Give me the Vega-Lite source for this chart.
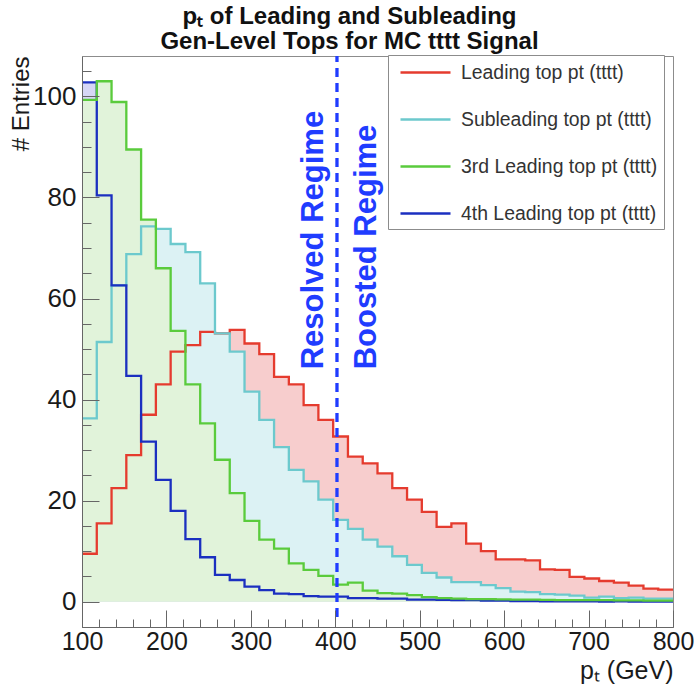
{
  "$schema": "https://vega.github.io/schema/vega-lite/v6.json",
  "width": 591,
  "height": 571,
  "autosize": {"type": "none"},
  "padding": {"left": 82, "top": 56, "right": 21, "bottom": 58},
  "background": "white",
  "title": {
    "text": ["pₜ of Leading and Subleading", "Gen-Level Tops for MC tttt Signal"],
    "font": "Liberation Sans",
    "fontSize": 24,
    "fontWeight": "bold",
    "color": "#111111",
    "anchor": "middle",
    "frame": "group",
    "dx": -28,
    "offset": 0,
    "lineHeight": 25
  },
  "datasets": {
    "h": [
      {"s": "Leading top pt (tttt)", "lo": 100, "hi": 117.5, "n": 9.5},
      {"s": "Leading top pt (tttt)", "lo": 117.5, "hi": 135, "n": 15.5},
      {"s": "Leading top pt (tttt)", "lo": 135, "hi": 152.5, "n": 22.5},
      {"s": "Leading top pt (tttt)", "lo": 152.5, "hi": 170, "n": 29},
      {"s": "Leading top pt (tttt)", "lo": 170, "hi": 187.5, "n": 37},
      {"s": "Leading top pt (tttt)", "lo": 187.5, "hi": 205, "n": 43},
      {"s": "Leading top pt (tttt)", "lo": 205, "hi": 222.5, "n": 49.5},
      {"s": "Leading top pt (tttt)", "lo": 222.5, "hi": 240, "n": 50.8},
      {"s": "Leading top pt (tttt)", "lo": 240, "hi": 257.5, "n": 53.4},
      {"s": "Leading top pt (tttt)", "lo": 257.5, "hi": 275, "n": 53.1},
      {"s": "Leading top pt (tttt)", "lo": 275, "hi": 292.5, "n": 53.8},
      {"s": "Leading top pt (tttt)", "lo": 292.5, "hi": 310, "n": 51.1},
      {"s": "Leading top pt (tttt)", "lo": 310, "hi": 327.5, "n": 49},
      {"s": "Leading top pt (tttt)", "lo": 327.5, "hi": 345, "n": 44.5},
      {"s": "Leading top pt (tttt)", "lo": 345, "hi": 362.5, "n": 43},
      {"s": "Leading top pt (tttt)", "lo": 362.5, "hi": 380, "n": 38.9},
      {"s": "Leading top pt (tttt)", "lo": 380, "hi": 397.5, "n": 36},
      {"s": "Leading top pt (tttt)", "lo": 397.5, "hi": 415, "n": 32.7},
      {"s": "Leading top pt (tttt)", "lo": 415, "hi": 432.5, "n": 28.7},
      {"s": "Leading top pt (tttt)", "lo": 432.5, "hi": 450, "n": 27.4},
      {"s": "Leading top pt (tttt)", "lo": 450, "hi": 467.5, "n": 25.4},
      {"s": "Leading top pt (tttt)", "lo": 467.5, "hi": 485, "n": 22.5},
      {"s": "Leading top pt (tttt)", "lo": 485, "hi": 502.5, "n": 20.2},
      {"s": "Leading top pt (tttt)", "lo": 502.5, "hi": 520, "n": 17.8},
      {"s": "Leading top pt (tttt)", "lo": 520, "hi": 537.5, "n": 14.8},
      {"s": "Leading top pt (tttt)", "lo": 537.5, "hi": 555, "n": 15.5},
      {"s": "Leading top pt (tttt)", "lo": 555, "hi": 572.5, "n": 11.5},
      {"s": "Leading top pt (tttt)", "lo": 572.5, "hi": 590, "n": 10},
      {"s": "Leading top pt (tttt)", "lo": 590, "hi": 607.5, "n": 8.4},
      {"s": "Leading top pt (tttt)", "lo": 607.5, "hi": 625, "n": 8.4},
      {"s": "Leading top pt (tttt)", "lo": 625, "hi": 642.5, "n": 8.2},
      {"s": "Leading top pt (tttt)", "lo": 642.5, "hi": 660, "n": 6.4},
      {"s": "Leading top pt (tttt)", "lo": 660, "hi": 677.5, "n": 6.3},
      {"s": "Leading top pt (tttt)", "lo": 677.5, "hi": 695, "n": 4.9},
      {"s": "Leading top pt (tttt)", "lo": 695, "hi": 712.5, "n": 4.6},
      {"s": "Leading top pt (tttt)", "lo": 712.5, "hi": 730, "n": 4.1},
      {"s": "Leading top pt (tttt)", "lo": 730, "hi": 747.5, "n": 3.8},
      {"s": "Leading top pt (tttt)", "lo": 747.5, "hi": 765, "n": 3.2},
      {"s": "Leading top pt (tttt)", "lo": 765, "hi": 782.5, "n": 2.6},
      {"s": "Leading top pt (tttt)", "lo": 782.5, "hi": 800, "n": 2.4},

      {"s": "Subleading top pt (tttt)", "lo": 100, "hi": 117.5, "n": 36.3},
      {"s": "Subleading top pt (tttt)", "lo": 117.5, "hi": 135, "n": 51.4},
      {"s": "Subleading top pt (tttt)", "lo": 135, "hi": 152.5, "n": 62.6},
      {"s": "Subleading top pt (tttt)", "lo": 152.5, "hi": 170, "n": 68.8},
      {"s": "Subleading top pt (tttt)", "lo": 170, "hi": 187.5, "n": 74.3},
      {"s": "Subleading top pt (tttt)", "lo": 187.5, "hi": 205, "n": 73.8},
      {"s": "Subleading top pt (tttt)", "lo": 205, "hi": 222.5, "n": 70.8},
      {"s": "Subleading top pt (tttt)", "lo": 222.5, "hi": 240, "n": 69.2},
      {"s": "Subleading top pt (tttt)", "lo": 240, "hi": 257.5, "n": 63},
      {"s": "Subleading top pt (tttt)", "lo": 257.5, "hi": 275, "n": 53.1},
      {"s": "Subleading top pt (tttt)", "lo": 275, "hi": 292.5, "n": 49.5},
      {"s": "Subleading top pt (tttt)", "lo": 292.5, "hi": 310, "n": 41.6},
      {"s": "Subleading top pt (tttt)", "lo": 310, "hi": 327.5, "n": 36},
      {"s": "Subleading top pt (tttt)", "lo": 327.5, "hi": 345, "n": 30.6},
      {"s": "Subleading top pt (tttt)", "lo": 345, "hi": 362.5, "n": 26.1},
      {"s": "Subleading top pt (tttt)", "lo": 362.5, "hi": 380, "n": 23.8},
      {"s": "Subleading top pt (tttt)", "lo": 380, "hi": 397.5, "n": 20.2},
      {"s": "Subleading top pt (tttt)", "lo": 397.5, "hi": 415, "n": 16.2},
      {"s": "Subleading top pt (tttt)", "lo": 415, "hi": 432.5, "n": 14.4},
      {"s": "Subleading top pt (tttt)", "lo": 432.5, "hi": 450, "n": 12.3},
      {"s": "Subleading top pt (tttt)", "lo": 450, "hi": 467.5, "n": 10.9},
      {"s": "Subleading top pt (tttt)", "lo": 467.5, "hi": 485, "n": 9},
      {"s": "Subleading top pt (tttt)", "lo": 485, "hi": 502.5, "n": 7.3},
      {"s": "Subleading top pt (tttt)", "lo": 502.5, "hi": 520, "n": 5.7},
      {"s": "Subleading top pt (tttt)", "lo": 520, "hi": 537.5, "n": 4.8},
      {"s": "Subleading top pt (tttt)", "lo": 537.5, "hi": 555, "n": 3.9},
      {"s": "Subleading top pt (tttt)", "lo": 555, "hi": 572.5, "n": 3.9},
      {"s": "Subleading top pt (tttt)", "lo": 572.5, "hi": 590, "n": 3.3},
      {"s": "Subleading top pt (tttt)", "lo": 590, "hi": 607.5, "n": 2.7},
      {"s": "Subleading top pt (tttt)", "lo": 607.5, "hi": 625, "n": 2},
      {"s": "Subleading top pt (tttt)", "lo": 625, "hi": 642.5, "n": 1.9},
      {"s": "Subleading top pt (tttt)", "lo": 642.5, "hi": 660, "n": 1.5},
      {"s": "Subleading top pt (tttt)", "lo": 660, "hi": 677.5, "n": 1.4},
      {"s": "Subleading top pt (tttt)", "lo": 677.5, "hi": 695, "n": 1.2},
      {"s": "Subleading top pt (tttt)", "lo": 695, "hi": 712.5, "n": 0.8},
      {"s": "Subleading top pt (tttt)", "lo": 712.5, "hi": 730, "n": 1},
      {"s": "Subleading top pt (tttt)", "lo": 730, "hi": 747.5, "n": 0.7},
      {"s": "Subleading top pt (tttt)", "lo": 747.5, "hi": 765, "n": 0.8},
      {"s": "Subleading top pt (tttt)", "lo": 765, "hi": 782.5, "n": 0.6},
      {"s": "Subleading top pt (tttt)", "lo": 782.5, "hi": 800, "n": 0.6},

      {"s": "4th Leading top pt (tttt)", "lo": 100, "hi": 117.5, "n": 102.8},
      {"s": "4th Leading top pt (tttt)", "lo": 117.5, "hi": 135, "n": 80.4},
      {"s": "4th Leading top pt (tttt)", "lo": 135, "hi": 152.5, "n": 62.6},
      {"s": "4th Leading top pt (tttt)", "lo": 152.5, "hi": 170, "n": 44.7},
      {"s": "4th Leading top pt (tttt)", "lo": 170, "hi": 187.5, "n": 31.7},
      {"s": "4th Leading top pt (tttt)", "lo": 187.5, "hi": 205, "n": 24.1},
      {"s": "4th Leading top pt (tttt)", "lo": 205, "hi": 222.5, "n": 18},
      {"s": "4th Leading top pt (tttt)", "lo": 222.5, "hi": 240, "n": 12.4},
      {"s": "4th Leading top pt (tttt)", "lo": 240, "hi": 257.5, "n": 8.8},
      {"s": "4th Leading top pt (tttt)", "lo": 257.5, "hi": 275, "n": 5.3},
      {"s": "4th Leading top pt (tttt)", "lo": 275, "hi": 292.5, "n": 4.3},
      {"s": "4th Leading top pt (tttt)", "lo": 292.5, "hi": 310, "n": 3},
      {"s": "4th Leading top pt (tttt)", "lo": 310, "hi": 327.5, "n": 2.3},
      {"s": "4th Leading top pt (tttt)", "lo": 327.5, "hi": 345, "n": 1.6},
      {"s": "4th Leading top pt (tttt)", "lo": 345, "hi": 362.5, "n": 1.5},
      {"s": "4th Leading top pt (tttt)", "lo": 362.5, "hi": 380, "n": 1.1},
      {"s": "4th Leading top pt (tttt)", "lo": 380, "hi": 397.5, "n": 1},
      {"s": "4th Leading top pt (tttt)", "lo": 397.5, "hi": 415, "n": 1},
      {"s": "4th Leading top pt (tttt)", "lo": 415, "hi": 432.5, "n": 0.7},
      {"s": "4th Leading top pt (tttt)", "lo": 432.5, "hi": 450, "n": 0.7},
      {"s": "4th Leading top pt (tttt)", "lo": 450, "hi": 467.5, "n": 0.6},
      {"s": "4th Leading top pt (tttt)", "lo": 467.5, "hi": 485, "n": 0.6},
      {"s": "4th Leading top pt (tttt)", "lo": 485, "hi": 502.5, "n": 0.4},
      {"s": "4th Leading top pt (tttt)", "lo": 502.5, "hi": 520, "n": 0.4},
      {"s": "4th Leading top pt (tttt)", "lo": 520, "hi": 537.5, "n": 0.35},
      {"s": "4th Leading top pt (tttt)", "lo": 537.5, "hi": 555, "n": 0.3},
      {"s": "4th Leading top pt (tttt)", "lo": 555, "hi": 572.5, "n": 0.3},
      {"s": "4th Leading top pt (tttt)", "lo": 572.5, "hi": 590, "n": 0.2},
      {"s": "4th Leading top pt (tttt)", "lo": 590, "hi": 607.5, "n": 0.2},
      {"s": "4th Leading top pt (tttt)", "lo": 607.5, "hi": 625, "n": 0.15},
      {"s": "4th Leading top pt (tttt)", "lo": 625, "hi": 642.5, "n": 0.15},
      {"s": "4th Leading top pt (tttt)", "lo": 642.5, "hi": 660, "n": 0.1},
      {"s": "4th Leading top pt (tttt)", "lo": 660, "hi": 677.5, "n": 0.1},
      {"s": "4th Leading top pt (tttt)", "lo": 677.5, "hi": 695, "n": 0.1},
      {"s": "4th Leading top pt (tttt)", "lo": 695, "hi": 712.5, "n": 0.1},
      {"s": "4th Leading top pt (tttt)", "lo": 712.5, "hi": 730, "n": 0.05},
      {"s": "4th Leading top pt (tttt)", "lo": 730, "hi": 747.5, "n": 0.1},
      {"s": "4th Leading top pt (tttt)", "lo": 747.5, "hi": 765, "n": 0.05},
      {"s": "4th Leading top pt (tttt)", "lo": 765, "hi": 782.5, "n": 0.05},
      {"s": "4th Leading top pt (tttt)", "lo": 782.5, "hi": 800, "n": 0.05},

      {"s": "3rd Leading top pt (tttt)", "lo": 100, "hi": 117.5, "n": 99.3},
      {"s": "3rd Leading top pt (tttt)", "lo": 117.5, "hi": 135, "n": 103},
      {"s": "3rd Leading top pt (tttt)", "lo": 135, "hi": 152.5, "n": 98.9},
      {"s": "3rd Leading top pt (tttt)", "lo": 152.5, "hi": 170, "n": 89.5},
      {"s": "3rd Leading top pt (tttt)", "lo": 170, "hi": 187.5, "n": 75.6},
      {"s": "3rd Leading top pt (tttt)", "lo": 187.5, "hi": 205, "n": 66},
      {"s": "3rd Leading top pt (tttt)", "lo": 205, "hi": 222.5, "n": 53.6},
      {"s": "3rd Leading top pt (tttt)", "lo": 222.5, "hi": 240, "n": 43},
      {"s": "3rd Leading top pt (tttt)", "lo": 240, "hi": 257.5, "n": 35.3},
      {"s": "3rd Leading top pt (tttt)", "lo": 257.5, "hi": 275, "n": 28.1},
      {"s": "3rd Leading top pt (tttt)", "lo": 275, "hi": 292.5, "n": 21.5},
      {"s": "3rd Leading top pt (tttt)", "lo": 292.5, "hi": 310, "n": 16},
      {"s": "3rd Leading top pt (tttt)", "lo": 310, "hi": 327.5, "n": 12.3},
      {"s": "3rd Leading top pt (tttt)", "lo": 327.5, "hi": 345, "n": 10.5},
      {"s": "3rd Leading top pt (tttt)", "lo": 345, "hi": 362.5, "n": 7.6},
      {"s": "3rd Leading top pt (tttt)", "lo": 362.5, "hi": 380, "n": 6.3},
      {"s": "3rd Leading top pt (tttt)", "lo": 380, "hi": 397.5, "n": 5.1},
      {"s": "3rd Leading top pt (tttt)", "lo": 397.5, "hi": 415, "n": 3.4},
      {"s": "3rd Leading top pt (tttt)", "lo": 415, "hi": 432.5, "n": 3.8},
      {"s": "3rd Leading top pt (tttt)", "lo": 432.5, "hi": 450, "n": 2.2},
      {"s": "3rd Leading top pt (tttt)", "lo": 450, "hi": 467.5, "n": 1.7},
      {"s": "3rd Leading top pt (tttt)", "lo": 467.5, "hi": 485, "n": 1.6},
      {"s": "3rd Leading top pt (tttt)", "lo": 485, "hi": 502.5, "n": 1.3},
      {"s": "3rd Leading top pt (tttt)", "lo": 502.5, "hi": 520, "n": 0.9},
      {"s": "3rd Leading top pt (tttt)", "lo": 520, "hi": 537.5, "n": 0.7},
      {"s": "3rd Leading top pt (tttt)", "lo": 537.5, "hi": 555, "n": 0.6},
      {"s": "3rd Leading top pt (tttt)", "lo": 555, "hi": 572.5, "n": 0.5},
      {"s": "3rd Leading top pt (tttt)", "lo": 572.5, "hi": 590, "n": 0.5},
      {"s": "3rd Leading top pt (tttt)", "lo": 590, "hi": 607.5, "n": 0.45},
      {"s": "3rd Leading top pt (tttt)", "lo": 607.5, "hi": 625, "n": 0.4},
      {"s": "3rd Leading top pt (tttt)", "lo": 625, "hi": 642.5, "n": 0.4},
      {"s": "3rd Leading top pt (tttt)", "lo": 642.5, "hi": 660, "n": 0.35},
      {"s": "3rd Leading top pt (tttt)", "lo": 660, "hi": 677.5, "n": 0.3},
      {"s": "3rd Leading top pt (tttt)", "lo": 677.5, "hi": 695, "n": 0.3},
      {"s": "3rd Leading top pt (tttt)", "lo": 695, "hi": 712.5, "n": 0.3},
      {"s": "3rd Leading top pt (tttt)", "lo": 712.5, "hi": 730, "n": 0.3},
      {"s": "3rd Leading top pt (tttt)", "lo": 730, "hi": 747.5, "n": 0.25},
      {"s": "3rd Leading top pt (tttt)", "lo": 747.5, "hi": 765, "n": 0.25},
      {"s": "3rd Leading top pt (tttt)", "lo": 765, "hi": 782.5, "n": 0.2},
      {"s": "3rd Leading top pt (tttt)", "lo": 782.5, "hi": 800, "n": 0.2}
    ]
  },
  "data": {"name": "h"},
  "layer": [
    {
      "transform": [
        {"filter": {"field": "s", "equal": "Leading top pt (tttt)"}},
        {"fold": ["lo", "hi"], "as": ["k", "e"]}
      ],
      "mark": {"type": "area", "fill": "#f7cdcd", "interpolate": "linear"},
      "encoding": {
        "x": {"field": "e", "type": "quantitative", "scale": {"domain": [100, 800], "nice": false, "zero": false}, "axis": null},
        "y": {"field": "n", "type": "quantitative", "stack": null, "scale": {"domain": [-5, 108], "nice": false, "zero": false}, "axis": null},
        "y2": {"datum": 0},
        "order": [{"field": "e", "type": "quantitative"}, {"field": "k", "type": "nominal"}]
      }
    },
    {
      "transform": [
        {"filter": {"field": "s", "equal": "Subleading top pt (tttt)"}},
        {"fold": ["lo", "hi"], "as": ["k", "e"]}
      ],
      "mark": {"type": "area", "fill": "#dcf2f4"},
      "encoding": {
        "x": {"field": "e", "type": "quantitative", "scale": {"domain": [100, 800], "nice": false, "zero": false}, "axis": null},
        "y": {"field": "n", "type": "quantitative", "stack": null, "scale": {"domain": [-5, 108], "nice": false, "zero": false}, "axis": null},
        "y2": {"datum": 0},
        "order": [{"field": "e", "type": "quantitative"}, {"field": "k", "type": "nominal"}]
      }
    },
    {
      "transform": [
        {"filter": {"field": "s", "equal": "4th Leading top pt (tttt)"}},
        {"fold": ["lo", "hi"], "as": ["k", "e"]}
      ],
      "mark": {"type": "area", "fill": "#d6d6f5"},
      "encoding": {
        "x": {"field": "e", "type": "quantitative", "scale": {"domain": [100, 800], "nice": false, "zero": false}, "axis": null},
        "y": {"field": "n", "type": "quantitative", "stack": null, "scale": {"domain": [-5, 108], "nice": false, "zero": false}, "axis": null},
        "y2": {"datum": 0},
        "order": [{"field": "e", "type": "quantitative"}, {"field": "k", "type": "nominal"}]
      }
    },
    {
      "transform": [
        {"filter": {"field": "s", "equal": "3rd Leading top pt (tttt)"}},
        {"fold": ["lo", "hi"], "as": ["k", "e"]}
      ],
      "mark": {"type": "area", "fill": "#e1f3da"},
      "encoding": {
        "x": {"field": "e", "type": "quantitative", "scale": {"domain": [100, 800], "nice": false, "zero": false},
              "axis": {"orient": "bottom", "zindex": 2, "values": [120,140,160,180,220,240,260,280,320,340,360,380,420,440,460,480,520,540,560,580,620,640,660,680,720,740,760,780],
                       "labels": false, "domain": false, "tickSize": -8, "title": null, "grid": false}},
        "y": {"field": "n", "type": "quantitative", "stack": null, "scale": {"domain": [-5, 108], "nice": false, "zero": false},
              "axis": {"orient": "left", "zindex": 2, "values": [5,10,15,25,30,35,45,50,55,65,70,75,85,90,95,105],
                       "labels": false, "domain": false, "tickSize": -9, "title": null, "grid": false}},
        "y2": {"datum": 0},
        "order": [{"field": "e", "type": "quantitative"}, {"field": "k", "type": "nominal"}]
      }
    },
    {
      "transform": [
        {"fold": ["lo", "hi"], "as": ["k", "e"]}
      ],
      "mark": {"type": "line", "strokeWidth": 2.3, "interpolate": "linear"},
      "encoding": {
        "x": {"field": "e", "type": "quantitative", "scale": {"domain": [100, 800], "nice": false, "zero": false},
              "axis": {"orient": "bottom", "zindex": 2, "values": [100,200,300,400,500,600,700,800], "tickSize": -17, "labelPadding": 19,
                       "labelFlush": false, "labelOverlap": false, "labelFontSize": 25,
                       "title": "pₜ (GeV)", "titleFontSize": 25, "titleAnchor": "end", "titleAlign": "right",
                       "titleX": 591, "titleY": 51, "titleBaseline": "alphabetic"}},
        "y": {"field": "n", "type": "quantitative", "scale": {"domain": [-5, 108], "nice": false, "zero": false},
              "axis": {"orient": "left", "zindex": 2, "values": [0,20,40,60,80,100], "tickSize": -17, "labelPadding": 23,
                       "labelFlush": false,
                       "title": "# Entries", "titleFontSize": 24, "titleAngle": 270, "titleAlign": "right",
                       "titleBaseline": "middle", "titleX": -61, "titleY": 0}},
        "stroke": {"field": "s", "type": "nominal",
                   "scale": {"domain": ["Leading top pt (tttt)", "Subleading top pt (tttt)", "3rd Leading top pt (tttt)", "4th Leading top pt (tttt)"],
                             "range": ["#e53b2e", "#6cc9cd", "#5acb3c", "#1b2fc0"]},
                   "legend": {"title": null}},
        "order": [{"field": "e", "type": "quantitative"}, {"field": "k", "type": "nominal"}]
      }
    },
    {
      "data": {"values": [{}]},
      "mark": {"type": "rule", "color": "#1f3cff", "strokeWidth": 3.3, "strokeDash": [9, 6]},
      "encoding": {
        "x": {"datum": 402, "type": "quantitative", "scale": {"domain": [100, 800], "nice": false, "zero": false}, "axis": null},
        "y": {"datum": -3, "type": "quantitative", "scale": {"domain": [-5, 108], "nice": false, "zero": false}, "axis": null},
        "y2": {"datum": 108}
      }
    },
    {
      "data": {"values": [{}]},
      "mark": {"type": "text", "angle": 270, "align": "left", "baseline": "alphabetic", "font": "Liberation Sans", "fontWeight": "bold", "fontSize": 31, "color": "#1f3cff"},
      "encoding": {
        "x": {"datum": 385.7, "type": "quantitative", "scale": {"domain": [100, 800], "nice": false, "zero": false}, "axis": null},
        "y": {"datum": 46, "type": "quantitative", "scale": {"domain": [-5, 108], "nice": false, "zero": false}, "axis": null},
        "text": {"value": "Resolved Regime"}
      }
    },
    {
      "data": {"values": [{}]},
      "mark": {"type": "text", "angle": 270, "align": "left", "baseline": "alphabetic", "font": "Liberation Sans", "fontWeight": "bold", "fontSize": 31, "color": "#1f3cff"},
      "encoding": {
        "x": {"datum": 448.5, "type": "quantitative", "scale": {"domain": [100, 800], "nice": false, "zero": false}, "axis": null},
        "y": {"datum": 46, "type": "quantitative", "scale": {"domain": [-5, 108], "nice": false, "zero": false}, "axis": null},
        "text": {"value": "Boosted Regime"}
      }
    }
  ],
  "resolve": {"axis": {"x": "independent", "y": "independent"}},
  "config": {
    "view": {"stroke": "#8c8c8c", "strokeWidth": 1},
    "font": "Liberation Sans",
    "axis": {
      "grid": false,
      "zindex": 2,
      "domainColor": "#666666",
      "tickColor": "#666666",
      "tickWidth": 1,
      "labelFont": "Liberation Sans",
      "labelFontSize": 26,
      "labelColor": "#1a1a1a",
      "titleFont": "Liberation Sans",
      "titleFontWeight": "normal",
      "titleColor": "#1a1a1a"
    },
    "legend": {
      "orient": "none",
      "legendX": 306,
      "legendY": -1,
      "fillColor": "white",
      "strokeColor": "#8c8c8c",
      "padding": 6,
      "symbolType": "M-0.5,0H4.5",
      "symbolSize": 400,
      "symbolStrokeWidth": 2.5,
      "symbolFillColor": "transparent",
      "labelFont": "Liberation Sans",
      "labelFontSize": 19.4,
      "labelColor": "#333333",
      "labelOffset": 44,
      "labelLimit": 400,
      "rowPadding": 26
    }
  }
}
